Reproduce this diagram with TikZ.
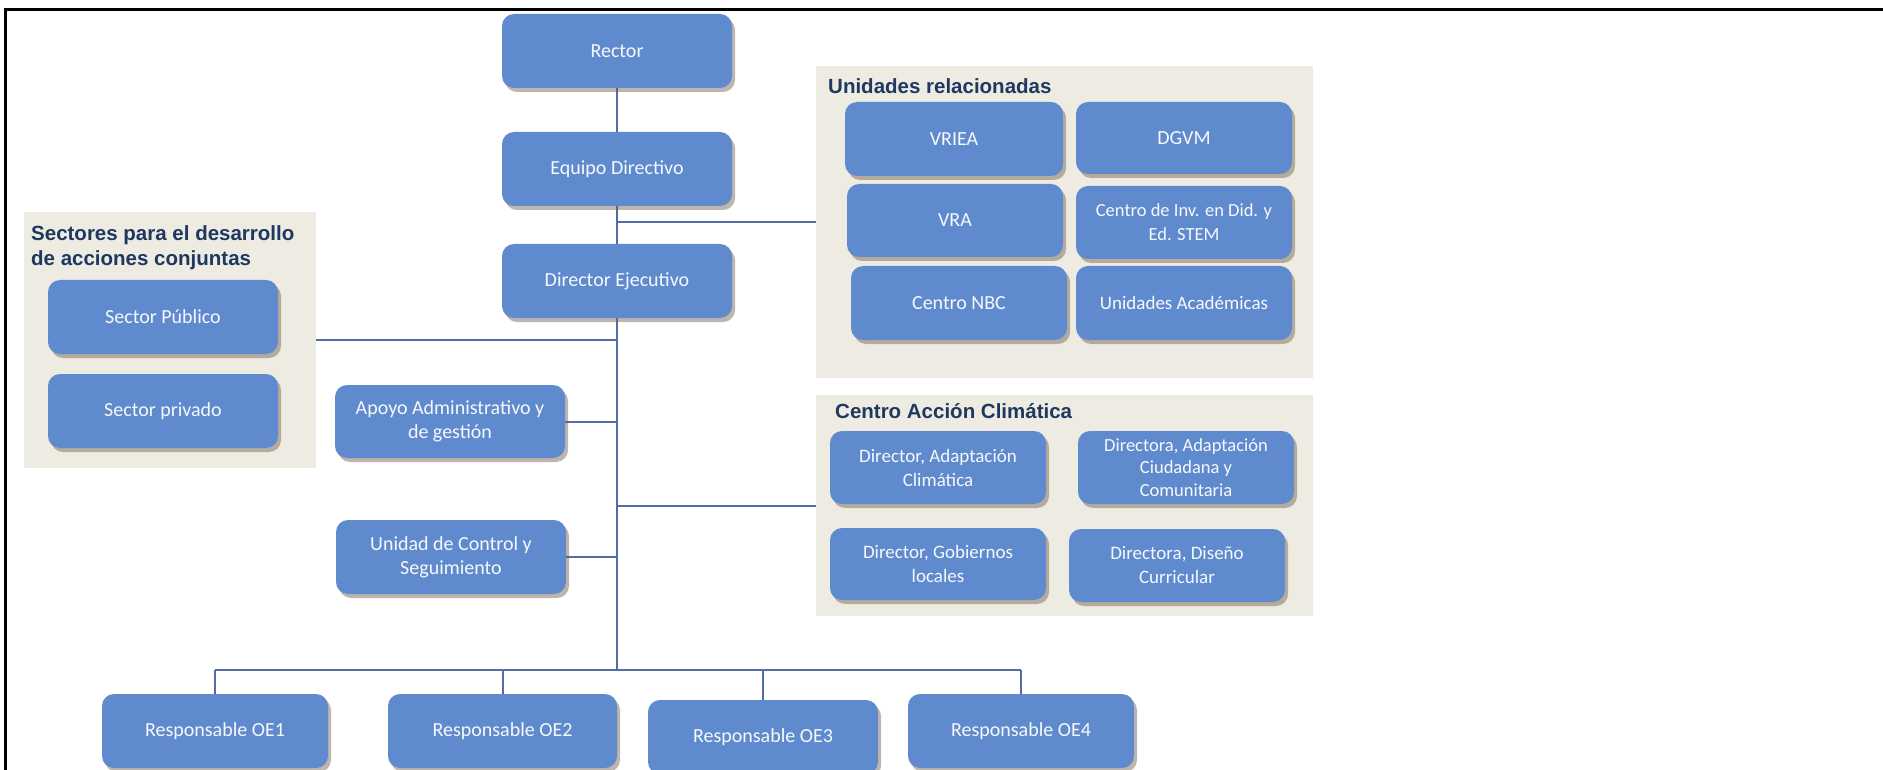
\documentclass[tikz,border=0pt]{standalone}
\usepackage{fontspec}
\usetikzlibrary{shadows}
\newfontfamily\boxfont{Carlito}
\newfontfamily\titlefont{Liberation Sans}
\newcommand\bxf[2]{\boxfont\fontsize{#1}{#2}\selectfont}
\definecolor{boxblue}{RGB}{95,139,206}
\definecolor{boxtext}{RGB}{246,248,252}
\definecolor{panelbg}{RGB}{238,236,226}
\definecolor{linecol}{RGB}{82,108,166}
\definecolor{titlecol}{RGB}{31,56,96}
\pgfdeclarelayer{backl}
\pgfdeclarelayer{bgl}
\pgfsetlayers{backl,bgl,main}
\tikzset{
  box/.style={draw=none, fill=boxblue, rounded corners=12pt, text=boxtext,
    align=center, inner sep=2pt, font=\bxf{20}{24},
    drop shadow={shadow xshift=3pt, shadow yshift=-4pt, fill=black!60!brown!80, opacity=0.45}},
  panel/.style={draw=none, fill=panelbg, inner sep=0pt},
  conn/.style={draw=linecol, line width=2pt},
  ptitle/.style={text=titlecol, font={\titlefont\bfseries\fontsize{20.5}{25}\selectfont},
    anchor=west, inner sep=0pt, align=left},
}
\begin{document}
\begin{tikzpicture}[x=1pt,y=-1pt]
\useasboundingbox (0,0) rectangle (1883,770);
\begin{pgfonlayer}{backl}
\fill[white] (0,0) rectangle (1883,770);
\end{pgfonlayer}
% frame
\draw[line width=3pt] (5,770) -- (5,10) -- (1883,10);
% panels
\node[panel, minimum width=292pt, minimum height=256pt] (secpanel) at (170,340) {};
\node[panel, minimum width=497pt, minimum height=312pt] (unipanel) at (1064.5,222) {};
\node[panel, minimum width=497pt, minimum height=221pt] (capanel) at (1064.5,505.5) {};
% panel titles
\node[ptitle] (sectitle) at (31,247.5) {Sectores para el desarrollo\\de acciones conjuntas};
\node[ptitle] (unititle) at (828,86) {Unidades relacionadas};
\node[ptitle] (catitle) at (835,411) {Centro Acción Climática};
% main column
\node[box, minimum width=230pt, minimum height=74pt] (rector) at (617,51) {Rector};
\node[box, minimum width=230pt, minimum height=74pt] (equipo) at (617,169) {Equipo Directivo};
\node[box, minimum width=230pt, minimum height=74pt] (direj) at (617,281) {Director Ejecutivo};
\node[box, minimum width=230pt, minimum height=73pt] (apoyo) at (450,421.5) {Apoyo Administrativo y\\de gestión};
\node[box, minimum width=230pt, minimum height=74pt] (control) at (451,557) {Unidad de Control y\\Seguimiento};
% sectores
\node[box, minimum width=230pt, minimum height=74pt] (publico) at (163,317) {Sector Público};
\node[box, minimum width=230pt, minimum height=74pt] (privado) at (163,411) {Sector privado};
% unidades relacionadas
\node[box, minimum width=218pt, minimum height=74pt] (vriea) at (954,139) {VRIEA};
\node[box, minimum width=216pt, minimum height=72pt] (dgvm) at (1184,138) {DGVM};
\node[box, minimum width=216pt, minimum height=73pt] (vra) at (955,220.5) {VRA};
\node[box, minimum width=216pt, minimum height=73pt, font=\bxf{18.5}{24}] (stem) at (1184,222.5) {Centro de Inv. en Did. y\\Ed. STEM};
\node[box, minimum width=216pt, minimum height=74pt] (nbc) at (959,303) {Centro NBC};
\node[box, minimum width=216pt, minimum height=74pt, font=\bxf{19}{24}] (uacad) at (1184,303) {Unidades Académicas};
% centro accion climatica
\node[box, minimum width=216pt, minimum height=73pt, font=\bxf{19}{24}] (adapt) at (938,467.5) {Director, Adaptación\\Climática};
\node[box, minimum width=216pt, minimum height=73pt, font=\bxf{18.5}{22.5}] (ciudad) at (1186,467.5) {Directora, Adaptación\\Ciudadana y\\Comunitaria};
\node[box, minimum width=216pt, minimum height=72pt, font=\bxf{19}{24}] (gobier) at (938,564) {Director, Gobiernos\\locales};
\node[box, minimum width=216pt, minimum height=73pt, font=\bxf{19}{24}] (diseno) at (1177,565.5) {Directora, Diseño\\Curricular};
% responsables
\node[box, minimum width=226pt, minimum height=74pt] (oe1) at (215,731) {Responsable OE1};
\node[box, minimum width=229pt, minimum height=74pt] (oe2) at (502.5,731) {Responsable OE2};
\node[box, minimum width=230pt, minimum height=74pt] (oe3) at (763,737) {Responsable OE3};
\node[box, minimum width=226pt, minimum height=74pt] (oe4) at (1021,731) {Responsable OE4};
\coordinate (bus) at (617,670);
% connectors
\begin{pgfonlayer}{bgl}
\draw[conn] (rector) -- (equipo);
\draw[conn] (equipo) -- (direj);
\draw[conn] (equipo.south |- unipanel.west) -- (unipanel.west);
\draw[conn] (direj.south) -- (bus);
\draw[conn] (secpanel.east) -- (secpanel.east -| direj.south);
\draw[conn] (apoyo.east) -- (apoyo.east -| direj.south);
\draw[conn] (control.east) -- (control.east -| direj.south);
\draw[conn] (capanel.west -| direj.south) -- (capanel.west);
\draw[conn] (oe1.north |- bus) -- (oe4.north |- bus);
\draw[conn] (oe1.north |- bus) -- (oe1.north);
\draw[conn] (oe2.north |- bus) -- (oe2.north);
\draw[conn] (oe3.north |- bus) -- (oe3.north);
\draw[conn] (oe4.north |- bus) -- (oe4.north);
\end{pgfonlayer}
\end{tikzpicture}
\end{document}
